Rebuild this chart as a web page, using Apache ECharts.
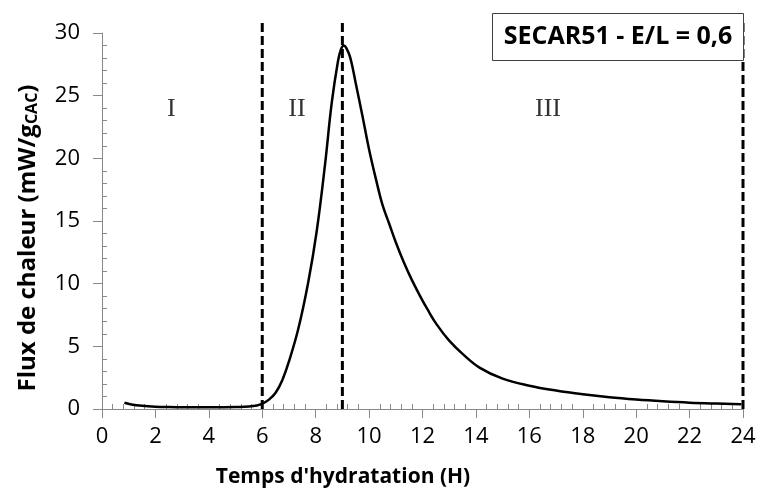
<!DOCTYPE html>
<html>
<head>
<meta charset="utf-8">
<script src="https://cdn.jsdelivr.net/npm/echarts@6/dist/echarts.min.js"></script>
<style>
  html, body { margin: 0; padding: 0; background: #fff; }
  #chart { width: 759px; height: 497px; }
</style>
</head>
<body>
<div id="chart"></div>
<script>
// Heat flow of SECAR51 paste (E/L = 0.6) during hydration
const hours = [0.84, 1.1, 1.5, 2.0, 2.5, 3.0, 3.5, 4.0, 4.5, 5.0, 5.5, 5.8, 6.0, 6.25, 6.5, 6.75, 7.0, 7.35, 7.72, 8.04, 8.35, 8.6, 8.84, 8.95, 9.05, 9.15, 9.3, 9.5, 9.75, 10.0, 10.25, 10.5, 10.75, 11.0, 11.3, 11.6, 11.9, 12.2, 12.53, 13.0, 13.5, 14.15, 15.0, 16.0, 17.0, 18.0, 19.0, 20.0, 21.0, 22.0, 23.0, 23.94];
const flux  = [0.5, 0.36, 0.25, 0.18, 0.15, 0.14, 0.13, 0.13, 0.14, 0.16, 0.2, 0.28, 0.42, 0.75, 1.3, 2.3, 3.8, 6.4, 10.1, 14.2, 19.5, 24.4, 27.8, 28.7, 29.0, 28.8, 28.0, 26.0, 23.4, 20.7, 18.4, 16.3, 14.8, 13.3, 11.7, 10.3, 9.05, 7.9, 6.75, 5.45, 4.4, 3.28, 2.42, 1.86, 1.47, 1.17, 0.93, 0.75, 0.61, 0.5, 0.43, 0.38];

// Phase boundaries (h) and phase labels
const boundaries = [6, 9, 24];
const boundaryTop = 31;
const phaseNames = ['I', 'II', 'III'];
const phaseX = [2.6, 7.3, 16.7];
const phaseY = [23.9, 23.9, 23.9];

const title = 'SECAR51 - E/L = 0,6';
const xTitle = "Temps d'hydratation (H)";

const axisGray = '#898989';
const font = '"Open Sans", "Noto Sans", sans-serif';

// minor tick positions (between majors)
const xMinor = [];
for (let i = 0; i <= 60; i++) { if (i % 5 !== 0) xMinor.push(+(i * 0.4).toFixed(2)); }
const yMinor = [];
for (let i = 0; i <= 30; i++) { if (i % 5 !== 0) yMinor.push(i); }

const chart = echarts.init(document.getElementById('chart'), null, { renderer: 'canvas' });

const curve = hours.map((h, i) => [h, flux[i]]);

const boundarySeries = boundaries.map(b => ({
  type: 'line',
  data: [[b, 0], [b, boundaryTop]],
  symbol: 'none',
  clip: false,
  silent: true,
  z: 3,
  lineStyle: { color: '#000', width: 3, type: [9, 4] }
}));

chart.setOption({
  animation: false,
  backgroundColor: '#fff',
  grid: { left: 102, right: 16, top: 33, bottom: 88, containLabel: false },
  xAxis: [{
    type: 'value', min: 0, max: 24, interval: 2,
    axisLine: { show: true, lineStyle: { color: axisGray, width: 1 } },
    axisTick: { show: true, inside: false, length: 9, lineStyle: { color: axisGray } },
    axisLabel: { color: '#000', fontSize: 22, fontFamily: font, margin: 17 },
    splitLine: { show: false }
  }, {
    type: 'value', min: 0, max: 24, position: 'bottom', offset: 0,
    axisLine: { show: false },
    axisTick: { show: true, inside: true, length: 5, customValues: xMinor, lineStyle: { color: axisGray } },
    axisLabel: { show: false },
    splitLine: { show: false }
  }],
  yAxis: [{
    type: 'value', min: 0, max: 30, interval: 5,
    axisLine: { show: true, lineStyle: { color: axisGray, width: 1 } },
    axisTick: { show: true, inside: false, length: 9, lineStyle: { color: axisGray } },
    axisLabel: { color: '#000', fontSize: 22, fontFamily: font, margin: 22 },
    splitLine: { show: false }
  }, {
    type: 'value', min: 0, max: 30, position: 'left', offset: 0,
    axisLine: { show: false },
    axisTick: { show: true, inside: true, length: 5, customValues: yMinor, lineStyle: { color: axisGray } },
    axisLabel: { show: false },
    splitLine: { show: false }
  }],
  series: [{
    type: 'line',
    data: curve,
    smooth: 0.4,
    symbol: 'none',
    z: 4,
    lineStyle: { color: '#000', width: 2.5 }
  }].concat(boundarySeries).concat([{
    type: 'scatter',
    data: phaseX.map((x, i) => ({ value: [x, phaseY[i]], name: phaseNames[i] })),
    symbolSize: 0,
    silent: true,
    label: {
      show: true, position: 'inside', formatter: p => p.name,
      color: '#000', fontSize: 26, fontFamily: '"Liberation Serif", "DejaVu Serif", serif'
    }
  }]),
  graphic: [{
    type: 'rect', z: 100,
    shape: { x: 492.5, y: 13.5, width: 251, height: 47 },
    style: { fill: '#fff', stroke: '#404040', lineWidth: 1 }
  }, {
    type: 'text', z: 101,
    x: 618, y: 37,
    style: {
      text: title, fill: '#000', fontSize: 25, fontWeight: 'bold', fontFamily: font,
      align: 'center', verticalAlign: 'middle'
    }
  }, {
    type: 'text', z: 101,
    x: 343, y: 477,
    style: {
      text: xTitle, fill: '#000', fontSize: 21, fontWeight: 'bold', fontFamily: font,
      align: 'center', verticalAlign: 'middle'
    }
  }, {
    type: 'text', z: 101,
    x: 25, y: 238, rotation: Math.PI / 2,
    style: {
      text: '{a|Flux de chaleur (mW/g}{s|CAC}{a|)}',
      align: 'center', verticalAlign: 'middle',
      rich: {
        a: { fill: '#000', fontSize: 24, fontWeight: 'bold', fontFamily: font, verticalAlign: 'bottom', lineHeight: 30 },
        s: { fill: '#000', fontSize: 16, fontWeight: 'bold', fontFamily: font, verticalAlign: 'bottom', lineHeight: 26 }
      }
    }
  }]
});
</script>
</body>
</html>
